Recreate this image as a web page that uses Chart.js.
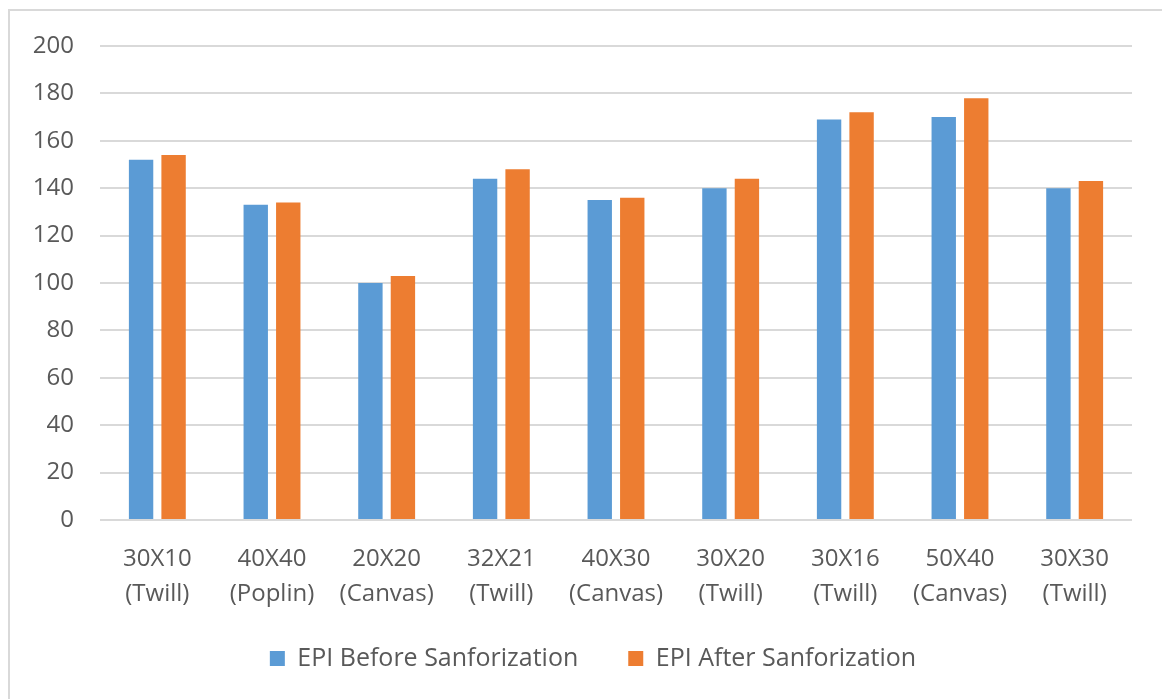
<!DOCTYPE html>
<html>
<head>
<meta charset="utf-8">
<script src="https://cdn.jsdelivr.net/npm/chart.js@4/dist/chart.umd.min.js"></script>
<style>
  html, body { margin: 0; padding: 0; background: #ffffff; overflow: hidden; }
  #frame {
    position: absolute; left: 8px; top: 9px; width: 1200px; height: 800px;
    border: 2px solid #d9d9d9; box-sizing: border-box;
  }
  #wrap { position: absolute; left: 0; top: 0; width: 1162px; height: 699px; }
</style>
</head>
<body>
<div id="frame"></div>
<div id="wrap"><canvas id="chart" width="1162" height="699"></canvas></div>
<script>
// Fabric constructions (count X count, weave)
const categories = [
  ["30X10", "(Twill)"],
  ["40X40", "(Poplin)"],
  ["20X20", "(Canvas)"],
  ["32X21", "(Twill)"],
  ["40X30", "(Canvas)"],
  ["30X20", "(Twill)"],
  ["30X16", "(Twill)"],
  ["50X40", "(Canvas)"],
  ["30X30", "(Twill)"]
];

// Ends per inch before and after sanforization
const epiBefore = [152, 133, 100, 144, 135, 140, 169, 170, 140];
const epiAfter  = [154, 134, 103, 148, 136, 144, 172, 178, 143];

const seriesNames = ["EPI Before Sanforization", "EPI After Sanforization"];
const yTicks = { min: 0, max: 200, step: 20 };

const textColor = "#595959";
const fontFamily = "'Open Sans', 'Liberation Sans', sans-serif";

// Nudge the legend box closer to the axis labels and a bit to the right
const legendOffset = {
  id: "legendOffset",
  afterLayout(chart) {
    const lg = chart.legend;
    if (!lg) return;
    lg.top -= 18; lg.bottom -= 18;
    lg.left += 27; lg.right += 27;
  }
};

new Chart(document.getElementById("chart"), {
  type: "bar",
  data: {
    labels: categories,
    datasets: [
      {
        label: seriesNames[0],
        data: epiBefore,
        backgroundColor: "#5B9BD5",
        categoryPercentage: 0.567,
        barPercentage: 0.75
      },
      {
        label: seriesNames[1],
        data: epiAfter,
        backgroundColor: "#ED7D31",
        categoryPercentage: 0.567,
        barPercentage: 0.75
      }
    ]
  },
  plugins: [legendOffset],
  options: {
    responsive: false,
    animation: false,
    layout: { padding: { top: 46, right: 30, bottom: 0, left: 0 } },
    plugins: {
      tooltip: { enabled: false },
      legend: {
        position: "bottom",
        labels: {
          boxWidth: 15,
          boxHeight: 15,
          padding: 50,
          color: textColor,
          font: { family: fontFamily, size: 25 }
        }
      }
    },
    scales: {
      x: {
        grid: { display: false, drawTicks: false },
        border: { display: false },
        ticks: {
          color: textColor,
          padding: 22,
          maxRotation: 0,
          autoSkip: false,
          font: { family: fontFamily, size: 24, lineHeight: 35 / 24 }
        },
        afterFit(scale) { scale.height = 94; }
      },
      y: {
        min: yTicks.min,
        max: yTicks.max,
        grid: { color: "#d9d9d9", lineWidth: 2, drawTicks: false },
        border: { display: false },
        ticks: {
          stepSize: yTicks.step,
          color: textColor,
          padding: 26,
          font: { family: fontFamily, size: 24 }
        },
        afterFit(scale) { scale.width = 100; }
      }
    }
  }
});
</script>
</body>
</html>
